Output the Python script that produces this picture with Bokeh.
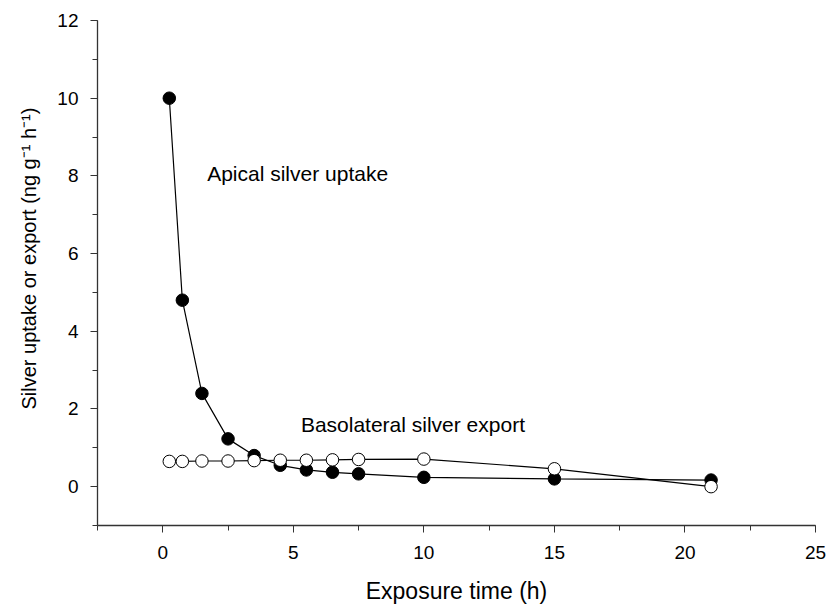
from bokeh.plotting import figure
from bokeh.models import SingleIntervalTicker, Range1d, Label, Title
from bokeh.embed import file_html
from bokeh.resources import INLINE

# Data
time_h = [0.25, 0.75, 1.5, 2.5, 3.5, 4.5, 5.5, 6.5, 7.5, 10, 15, 21]
apical_uptake = [10.0, 4.8, 2.4, 1.23, 0.8, 0.55, 0.43, 0.37, 0.33, 0.24, 0.2, 0.17]
basolateral_export = [0.65, 0.65, 0.66, 0.66, 0.67, 0.68, 0.68, 0.69, 0.70, 0.71, 0.46, 0.0]

x_title = "Exposure time (h)"
y_title = "Silver uptake or export (ng g\u207b\u00b9 h\u207b\u00b9)"

FONT = "Liberation Sans"

p = figure(width=829, height=607, output_backend="svg", toolbar_location=None,
           x_range=Range1d(-2.5, 25), y_range=Range1d(-1, 12),
           min_border_left=96, min_border_top=20, min_border_bottom=82, min_border_right=14)
p.outline_line_color = None
p.xgrid.visible = False
p.ygrid.visible = False
p.background_fill_color = "white"
p.border_fill_color = "white"

p.xaxis.ticker = SingleIntervalTicker(interval=5, num_minor_ticks=2)
p.yaxis.ticker = SingleIntervalTicker(interval=2, num_minor_ticks=2)

for ax in (p.xaxis[0], p.yaxis[0]):
    ax.axis_line_color = "#333333"
    ax.axis_line_width = 1.3
    ax.major_tick_line_color = "#333333"
    ax.minor_tick_line_color = "#333333"
    ax.major_tick_in = 0
    ax.major_tick_out = 7
    ax.minor_tick_in = 0
    ax.minor_tick_out = 5
    ax.major_label_text_font = FONT
    ax.major_label_text_font_size = "19px"
    ax.major_label_text_color = "black"
    ax.axis_label_text_font = FONT
    ax.axis_label_text_font_style = "normal"
    ax.axis_label_text_color = "black"

p.xaxis.axis_label = x_title
p.xaxis.axis_label_text_font_size = "23px"
p.xaxis.major_label_standoff = 13
p.yaxis.major_label_standoff = 12
p.xaxis.axis_label_standoff = 16

# Y title placed in the left panel, starting near y = 2 as in the reference
p.add_layout(Title(text=y_title, align="left", offset=116, text_font=FONT,
                   text_font_size="20px", text_font_style="normal",
                   text_color="black", standoff=30), "left")

# Apical uptake (filled)
p.line(time_h, apical_uptake, line_color="black", line_width=1.2)
p.scatter(time_h, apical_uptake, size=12.5, fill_color="black", line_color="black", line_width=1)

# Basolateral export (open)
p.line(time_h, basolateral_export, line_color="black", line_width=1.2)
p.scatter(time_h, basolateral_export, size=12.5, fill_color="white", line_color="black", line_width=1)

p.add_layout(Label(x=1.7, y=8.07, text="Apical silver uptake", text_font=FONT,
                   text_font_size="21px", text_baseline="middle", text_color="black"))
p.add_layout(Label(x=5.29, y=1.6, text="Basolateral silver export", text_font=FONT,
                   text_font_size="21px", text_baseline="middle", text_color="black"))

open("out.html", "w").write(file_html(p, INLINE))
